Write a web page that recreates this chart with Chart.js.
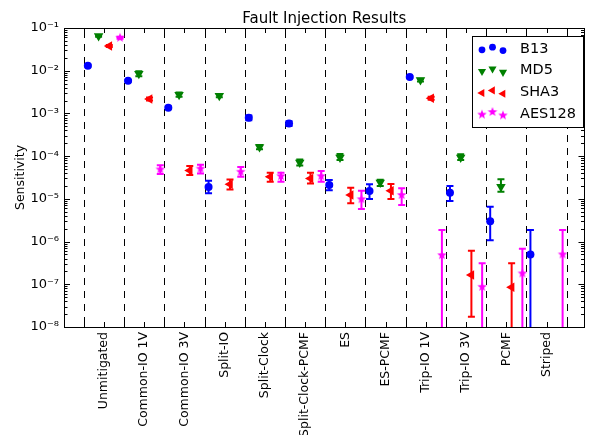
<!DOCTYPE html>
<html>
<head>
<meta charset="utf-8">
<script src="https://cdn.jsdelivr.net/npm/chart.js@4.4.0/dist/chart.umd.min.js"></script>
<style>html,body{margin:0;padding:0;background:#fff}</style>
</head>
<body>
<canvas id="c" width="590" height="435"></canvas>
<script>
const categories = ['Unmitigated', 'Common-IO 1V', 'Common-IO 3V', 'Split-IO', 'Split-Clock',
  'Split-Clock-PCMF', 'ES', 'ES-PCMF', 'Trip-IO 1V', 'Trip-IO 3V', 'PCMF', 'Striped'];
const seriesNames = ['B13', 'MD5', 'SHA3', 'AES128'];
const seriesColors = ['#0000ff', '#008000', '#ff0000', '#ff00ff'];
const offsets = [-0.4, -0.133, 0.133, 0.4];
const OFF = 1e-10; // lower bound below the axis

const b13   = [1.31e-2, 5.8e-3, 1.36e-3, 1.9e-5, 7.9e-4, 5.8e-4, 2.1e-5, 1.52e-5, 7.1e-3, 1.39e-5, 3.0e-6, 5.0e-7];
const b13Lo = [1.25e-2, 5.5e-3, 1.28e-3, 1.35e-5, 6.9e-4, 5.1e-4, 1.6e-5, 9.9e-6, 6.8e-3, 8.9e-6, 1.08e-6, OFF];
const b13Hi = [1.37e-2, 6.1e-3, 1.45e-3, 2.65e-5, 9.0e-4, 6.6e-4, 2.75e-5, 2.2e-5, 7.4e-3, 2.0e-5, 6.5e-6, 1.86e-6];

const md5   = [6.5e-2, 8.5e-3, 2.75e-3, 2.6e-3, 1.63e-4, 7.1e-5, 9.3e-5, 2.4e-5, 6.05e-3, 9.3e-5, 1.92e-5, null];
const md5Lo = [6.2e-2, 7.4e-3, 2.45e-3, 2.4e-3, 1.45e-4, 6.0e-5, 8.1e-5, 2.0e-5, 5.6e-3, 8.1e-5, 1.47e-5, null];
const md5Hi = [6.9e-2, 9.7e-3, 3.1e-3, 2.85e-3, 1.83e-4, 8.3e-5, 1.12e-4, 2.8e-5, 6.5e-3, 1.1e-4, 2.86e-5, null];

const sha3   = [3.8e-2, 2.17e-3, 4.6e-5, 2.2e-5, 3.3e-5, 3.0e-5, 1.23e-5, 1.55e-5, 2.26e-3, 1.64e-7, 8.5e-8, null];
const sha3Lo = [3.6e-2, 2.0e-3, 3.6e-5, 1.65e-5, 2.5e-5, 2.3e-5, 7.9e-6, 9.9e-6, 2.1e-3, 1.74e-8, OFF, null];
const sha3Hi = [4.0e-2, 2.35e-3, 5.9e-5, 2.85e-5, 4.1e-5, 4.1e-5, 1.82e-5, 2.22e-5, 2.45e-3, 6.1e-7, 3.1e-7, null];

const aes   = [5.9e-2, 4.9e-5, 5.1e-5, 4.3e-5, 3.4e-5, 3.4e-5, 9.8e-6, 1.23e-5, 4.8e-7, 8.7e-8, 1.8e-7, 5.0e-7];
const aesLo = [5.6e-2, 3.8e-5, 3.9e-5, 3.3e-5, 2.5e-5, 2.5e-5, 5.8e-6, 7.2e-6, OFF, OFF, OFF, OFF];
const aesHi = [6.2e-2, 6.1e-5, 6.3e-5, 5.6e-5, 4.1e-5, 4.5e-5, 1.55e-5, 1.76e-5, 1.86e-6, 3.1e-7, 6.8e-7, 1.86e-6];

const yTickExps = [-8, -7, -6, -5, -4, -3, -2, -1];

Chart.defaults.font.family = 'DejaVu Sans';
Chart.defaults.color = '#000';

function starImage(color, r) {
  const s = Math.ceil(r * 2 + 2);
  const c = document.createElement('canvas');
  c.width = c.height = s;
  const g = c.getContext('2d');
  g.fillStyle = color;
  g.beginPath();
  for (let k = 0; k < 10; k++) {
    const a = -Math.PI / 2 + k * Math.PI / 5;
    const rr = k % 2 ? r * 0.42 : r;
    g.lineTo(s / 2 + rr * Math.cos(a), s / 2 + rr * Math.sin(a));
  }
  g.closePath();
  g.fill();
  return c;
}

const markers = [
  { pointStyle: 'circle', radius: 4, rotation: 0 },
  { pointStyle: 'triangle', radius: 5.5, rotation: 180 },
  { pointStyle: 'triangle', radius: 5.5, rotation: -90 },
  { pointStyle: starImage('#ff00ff', 5), radius: 5, rotation: 0 }
];

const values = [b13, md5, sha3, aes];
const lows = [b13Lo, md5Lo, sha3Lo, aesLo];
const highs = [b13Hi, md5Hi, sha3Hi, aesHi];

const datasets = seriesNames.map((name, j) => ({
  label: name,
  data: values[j].map((v, i) => v == null ? null : { x: i + offsets[j], y: v, lo: lows[j][i], hi: highs[j][i] })
    .filter(p => p),
  backgroundColor: seriesColors[j],
  borderColor: seriesColors[j],
  borderWidth: 0,
  pointStyle: markers[j].pointStyle,
  pointRadius: markers[j].radius,
  pointHoverRadius: markers[j].radius,
  pointRotation: markers[j].rotation
}));

const sup = { '-': '\u207b', '0': '\u2070', '1': '\u00b9', '2': '\u00b2', '3': '\u00b3', '4': '\u2074',
  '5': '\u2075', '6': '\u2076', '7': '\u2077', '8': '\u2078', '9': '\u2079' };

const errorBars = {
  id: 'errorBars',
  beforeDatasetsDraw(chart) {
    const { ctx, chartArea: a, scales: { x, y } } = chart;
    ctx.save();
    ctx.beginPath();
    ctx.rect(a.left, a.top, a.right - a.left, a.bottom - a.top);
    ctx.clip();
    // category separators
    ctx.strokeStyle = '#000';
    ctx.lineWidth = 1;
    ctx.setLineDash([7, 6]);
    for (let i = 0; i <= categories.length; i++) {
      const px = Math.round(x.getPixelForValue(i - 0.5)) + 0.5;
      ctx.beginPath();
      ctx.moveTo(px, a.top + 3);
      ctx.lineTo(px, a.bottom);
      ctx.stroke();
    }
    ctx.setLineDash([]);
    chart.data.datasets.forEach(ds => {
      ctx.strokeStyle = ds.borderColor;
      ctx.lineWidth = 2;
      ds.data.forEach(p => {
        const px = x.getPixelForValue(p.x);
        const y1 = y.getPixelForValue(p.lo), y2 = y.getPixelForValue(p.hi);
        ctx.beginPath();
        ctx.moveTo(px, y1); ctx.lineTo(px, y2);
        ctx.moveTo(px - 3.5, y1); ctx.lineTo(px + 3.5, y1);
        ctx.moveTo(px - 3.5, y2); ctx.lineTo(px + 3.5, y2);
        ctx.stroke();
      });
    });
    ctx.restore();
  },
  afterDraw(chart) {
    const { ctx, chartArea: a, scales: { x, y } } = chart;
    ctx.save();
    ctx.strokeStyle = '#000';
    ctx.lineWidth = 1;
    // x ticks, inward on top and bottom
    ctx.beginPath();
    for (let v = -0.5; v <= categories.length - 0.5; v += 0.5) {
      const px = Math.round(x.getPixelForValue(v)) + 0.5;
      ctx.moveTo(px, a.bottom); ctx.lineTo(px, a.bottom - 5);
      ctx.moveTo(px, a.top); ctx.lineTo(px, a.top + 5);
    }
    // y ticks, major and minor
    yTickExps.forEach(e => {
      for (let m = 1; m <= 9; m++) {
        const v = m * Math.pow(10, e);
        if (v > 0.1 * 1.0001) continue;
        const py = Math.round(y.getPixelForValue(v)) + 0.5;
        const len = m === 1 ? 6 : 3.5;
        ctx.moveTo(a.left, py); ctx.lineTo(a.left + len, py);
        ctx.moveTo(a.right, py); ctx.lineTo(a.right - len, py);
      }
    });
    ctx.stroke();
    ctx.strokeRect(Math.round(a.left) + 0.5, Math.round(a.top) + 0.5,
      Math.round(a.right - a.left) - 1, Math.round(a.bottom - a.top));
    // legend
    const lx = 472.5, ly = 36.5, lw = 111, lh = 91;
    ctx.fillStyle = '#fff';
    ctx.fillRect(lx, ly, lw, lh);
    ctx.strokeRect(lx, ly, lw, lh);
    const dy = [0.8, -1.8, 1.6];
    ctx.font = '14.5px "DejaVu Sans"';
    ctx.textBaseline = 'middle';
    chart.data.datasets.forEach((ds, j) => {
      const rowY = 49 + j * 21.6;
      [482, 492.5, 503].forEach((mx, k) => {
        ctx.fillStyle = ds.backgroundColor;
        ctx.strokeStyle = ds.backgroundColor;
        Chart.helpers.drawPoint(ctx, {
          pointStyle: ds.pointStyle, radius: ds.pointRadius * 0.85,
          rotation: ds.pointRotation, borderWidth: 0
        }, mx, rowY + dy[k]);
      });
      ctx.fillStyle = '#000';
      ctx.fillText(ds.label, 520, rowY);
    });
    ctx.restore();
  }
};

new Chart(document.getElementById('c'), {
  type: 'scatter',
  data: { datasets },
  plugins: [errorBars],
  options: {
    responsive: false,
    animation: false,
    devicePixelRatio: 1,
    layout: { padding: { left: 0, right: 1, top: 0, bottom: 0 } },
    plugins: {
      legend: { display: false },
      tooltip: { enabled: false },
      title: {
        display: true,
        text: 'Fault Injection Results',
        fullSize: false,
        font: { size: 15, weight: 'normal' },
        padding: { top: 10, bottom: 0 }
      }
    },
    scales: {
      x: {
        type: 'linear',
        min: -0.993,
        max: 11.944,
        grid: { display: false, drawTicks: false },
        border: { display: false },
        afterBuildTicks: s => { s.ticks = categories.map((c, i) => ({ value: i })); },
        afterFit: s => { s.height = 108; },
        ticks: {
          autoSkip: false,
          minRotation: 90,
          maxRotation: 90,
          padding: 5,
          font: { size: 12.5 },
          callback: (v, i) => categories[i]
        }
      },
      y: {
        type: 'logarithmic',
        min: 1e-8,
        max: 1e-1,
        grid: { display: false, drawTicks: false },
        border: { display: false },
        afterBuildTicks: s => { s.ticks = yTickExps.map(e => ({ value: Math.pow(10, e) })); },
        afterFit: s => { s.width = 64; },
        title: {
          display: true,
          text: 'Sensitivity',
          font: { size: 12.5 },
          padding: { top: 13, bottom: 0 }
        },
        ticks: {
          padding: 5,
          font: { size: 13 },
          callback: v => '10' + String(Math.round(Math.log10(v))).split('').map(ch => sup[ch]).join('')
        }
      }
    }
  }
});
</script>
</body>
</html>
